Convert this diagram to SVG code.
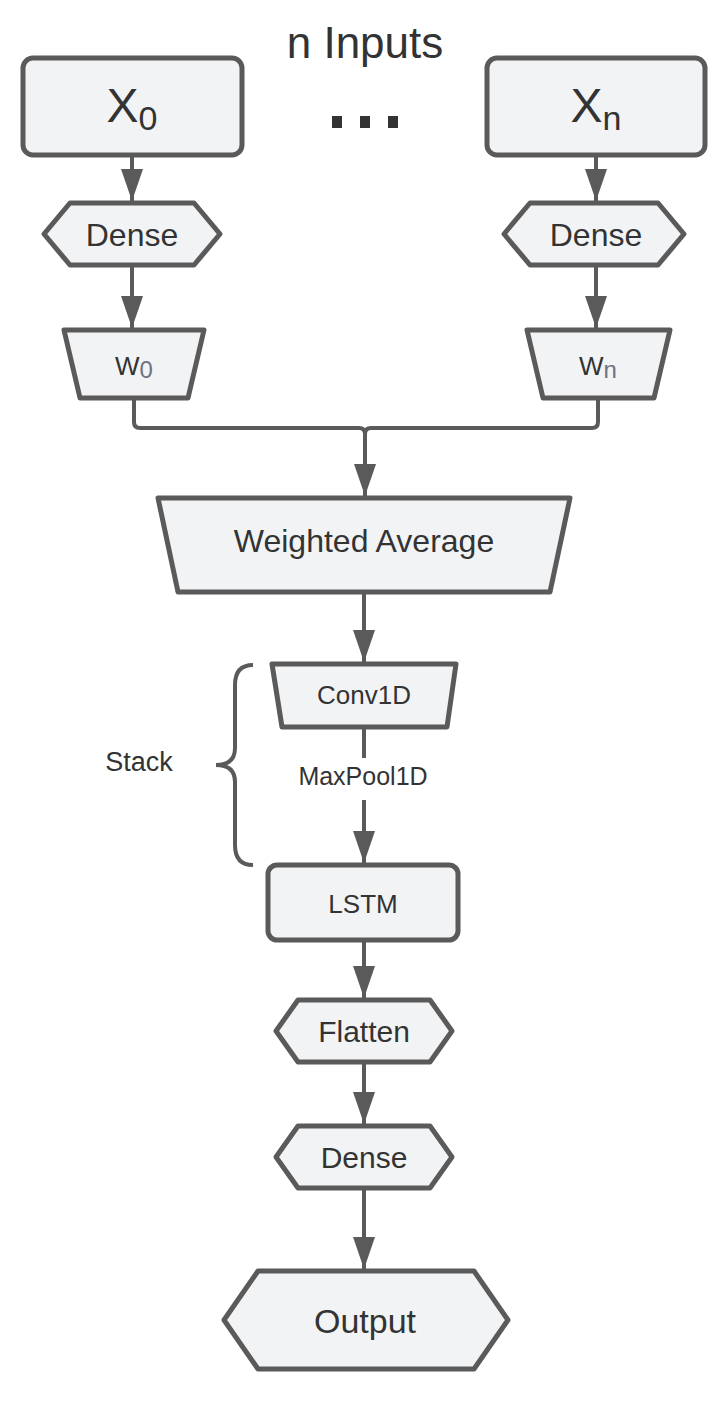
<svg xmlns="http://www.w3.org/2000/svg" width="728" height="1415" viewBox="0 0 728 1415">
<defs>
<marker id="ah" markerWidth="10" markerHeight="14" refX="10" refY="7" orient="auto" markerUnits="userSpaceOnUse" viewBox="0 0 10 14"><path d="M0,0 L10,7 L0,14 Z" fill="#5a5a5a"/></marker>
<style>
.s{fill:#f2f3f5;stroke:#5a5a5a;stroke-width:5;stroke-linejoin:round}
.c{fill:none;stroke:#5a5a5a;stroke-width:4}
.a{fill:none;stroke:#5a5a5a;stroke-width:4;marker-end:url(#arr)}
text{font-family:"Liberation Sans",Arial,sans-serif;fill:#333;text-anchor:middle}
</style>
<marker id="arr" markerWidth="22" markerHeight="32" refX="11" refY="32" orient="0" markerUnits="userSpaceOnUse" viewBox="0 0 22 32"><path d="M0,0 L22,0 L11,32 Z" fill="#5a5a5a"/></marker>
</defs>
<text x="365" y="58" font-size="44">n Inputs</text>
<g id="x0"><rect class="s" x="23" y="58" width="219" height="97" rx="10"/><text x="132" y="122" font-size="48">X<tspan font-size="34" dy="8">0</tspan></text></g>
<g id="xn"><rect class="s" x="487" y="58" width="218" height="97" rx="10"/><text x="596" y="122" font-size="48">X<tspan font-size="34" dy="8">n</tspan></text></g>
<g id="dots" fill="#333"><rect x="332" y="116" width="10" height="12"/><rect x="360" y="116" width="10" height="12"/><rect x="388" y="116" width="10" height="12"/></g>
<g id="dense0"><path class="s" d="M70,203 H194 L220,234 L194,265 H70 L44,234 Z"/><text x="132" y="246" font-size="32">Dense</text></g>
<g id="densen"><path class="s" d="M530,203 H658 L684,234 L658,265 H530 L504,234 Z"/><text x="596" y="246" font-size="32">Dense</text></g>
<g id="w0"><path class="s" d="M64,330 H204 L188,398 H80 Z"/><text x="134" y="375" font-size="26">W<tspan fill="#6b7280" font-size="24" dy="3">0</tspan></text></g>
<g id="wn"><path class="s" d="M527,330 H670 L654,398 H543 Z"/><text x="598" y="375" font-size="26">W<tspan fill="#6b7280" font-size="24" dy="3">n</tspan></text></g>
<g id="wavg"><path class="s" d="M158,498 H570 L550,592 H178 Z"/><text x="364" y="552" font-size="32">Weighted Average</text></g>
<g id="conv"><path class="s" d="M272,664 H456 L447,727 H282 Z"/><text x="364" y="704" font-size="26">Conv1D</text></g>
<text x="363" y="785" font-size="25">MaxPool1D</text>
<g id="stack"><path class="c" d="M253,665 Q235,665 235,685 V748 Q235,765 216,765 Q235,765 235,782 V845 Q235,865 253,865"/><text x="139" y="771" font-size="27">Stack</text></g>
<g id="lstm"><rect class="s" x="268" y="865" width="190" height="75" rx="9"/><text x="363" y="913" font-size="26">LSTM</text></g>
<g id="flatten"><path class="s" d="M298,1000 H430 L452,1031 L430,1062 H298 L276,1031 Z"/><text x="364" y="1042" font-size="30">Flatten</text></g>
<g id="dense2"><path class="s" d="M298,1126 H430 L452,1157 L430,1188 H298 L276,1157 Z"/><text x="364" y="1168" font-size="30">Dense</text></g>
<g id="output"><path class="s" d="M258,1271 H474 L508,1320 L474,1369 H258 L224,1320 Z"/><text x="365" y="1333" font-size="34">Output</text></g>
<g id="connectors">
<path class="a" d="M132,157 V201"/>
<path class="a" d="M596,157 V201"/>
<path class="a" d="M132,267 V328"/>
<path class="a" d="M596,267 V328"/>
<path class="c" d="M134,400 V422 Q134,428 140,428 H359 Q365,428 365,434"/>
<path class="c" d="M598,400 V422 Q598,428 592,428 H371 Q365,428 365,434"/>
<path class="a" d="M365,432 V496"/>
<path class="a" d="M364,594 V662"/>
<path class="c" d="M364,729 V758"/>
<path class="a" d="M364,800 V863"/>
<path class="a" d="M364,942 V998"/>
<path class="a" d="M364,1064 V1124"/>
<path class="a" d="M364,1190 V1269"/>
</g>
</svg>
